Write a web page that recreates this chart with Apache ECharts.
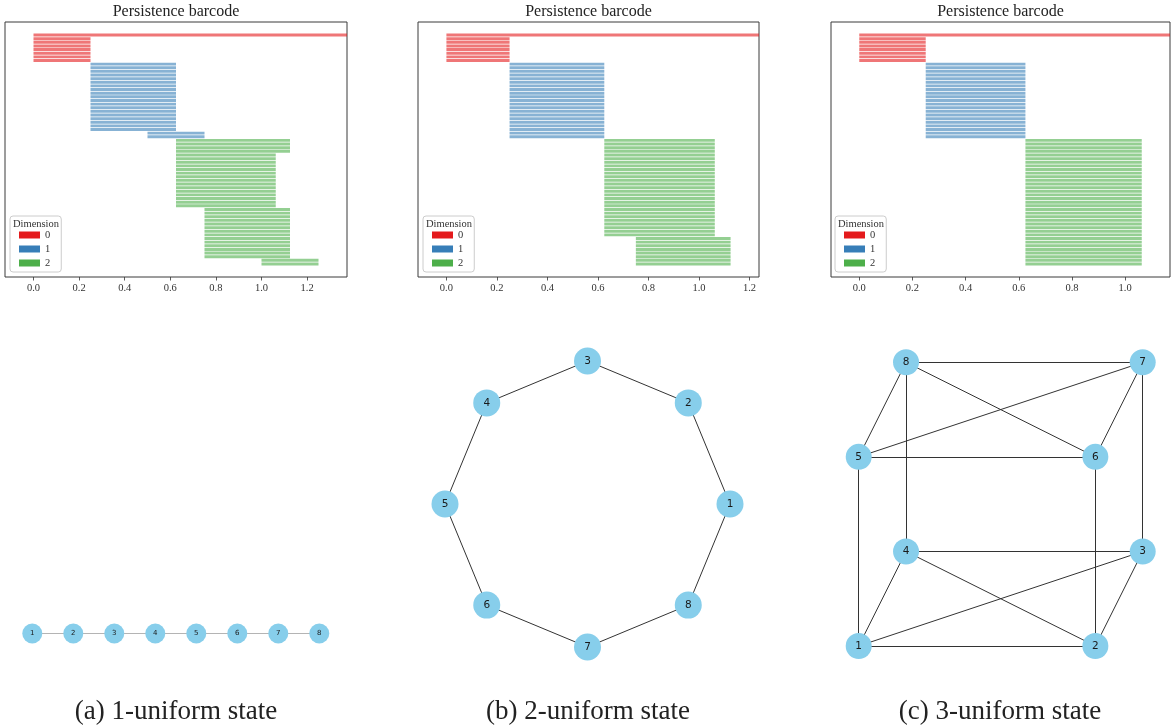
<!DOCTYPE html>
<html>
<head>
<meta charset="utf-8">
<script src="https://cdn.jsdelivr.net/npm/echarts@6/dist/echarts.min.js"></script>
<style>
  html, body { margin: 0; padding: 0; background: #ffffff; }
  #chart { width: 1172px; height: 726px; }
</style>
</head>
<body>
<div id="chart"></div>
<script>
// Persistence intervals, in drawing order: [dimension, birth, death, multiplicity].
// A death of null marks the essential class that never dies.
const barsUniform1 = [
  [0, 0.0, null, 1],
  [0, 0.0, 0.25, 7],
  [1, 0.25, 0.625, 19],
  [1, 0.5, 0.75, 2],
  [2, 0.625, 1.125, 4],
  [2, 0.625, 1.0625, 15],
  [2, 0.75, 1.125, 14],
  [2, 1.0, 1.25, 2]
];
const barsUniform2 = [
  [0, 0.0, null, 1],
  [0, 0.0, 0.25, 7],
  [1, 0.25, 0.625, 21],
  [2, 0.625, 1.0625, 27],
  [2, 0.75, 1.125, 8]
];
const barsUniform3 = [
  [0, 0.0, null, 1],
  [0, 0.0, 0.25, 7],
  [1, 0.25, 0.625, 21],
  [2, 0.625, 1.0625, 35]
];

const ticksUniform1 = [0.0, 0.2, 0.4, 0.6, 0.8, 1.0, 1.2];
const ticksUniform2 = [0.0, 0.2, 0.4, 0.6, 0.8, 1.0, 1.2];
const ticksUniform3 = [0.0, 0.2, 0.4, 0.6, 0.8, 1.0];

const dimensionNames = ['0', '1', '2'];
const dimensionColors = ['#e41a1c', '#377eb8', '#4daf4a'];

// Graph layouts (node positions) and edge lists
const pathNodes = [[0, 0], [1, 0], [2, 0], [3, 0], [4, 0], [5, 0], [6, 0], [7, 0]];
const pathEdges = [[1, 2], [2, 3], [3, 4], [4, 5], [5, 6], [6, 7], [7, 8]];

const ringNodes = [[1, 0], [0.7071, 0.7071], [0, 1], [-0.7071, 0.7071],
                   [-1, 0], [-0.7071, -0.7071], [0, -1], [0.7071, -0.7071]];
const ringEdges = [[1, 2], [2, 3], [3, 4], [4, 5], [5, 6], [6, 7], [7, 8], [8, 1]];

const cubeNodes = [[0, 0], [1, 0], [1.2, 0.4], [0.2, 0.4], [0, 0.8], [1, 0.8], [1.2, 1.2], [0.2, 1.2]];
const cubeEdges = [[8, 7], [8, 5], [8, 4], [8, 6], [7, 5], [7, 6], [7, 3], [5, 6],
                   [5, 1], [6, 2], [4, 3], [4, 1], [4, 2], [3, 1], [3, 2], [1, 2]];

const barcodeTitle = 'Persistence barcode';
const legendTitle = 'Dimension';
const captions = ['(a) 1-uniform state', '(b) 2-uniform state', '(c) 3-uniform state'];

// ---------------------------------------------------------------------------
const SERIF = '"Liberation Serif", "DejaVu Serif", serif';
const SANS = '"DejaVu Sans", sans-serif';

const barcodePanels = [
  { bars: barsUniform1, ticks: ticksUniform1, left: 5, width: 342, legendLeft: 10 },
  { bars: barsUniform2, ticks: ticksUniform2, left: 418, width: 341, legendLeft: 423 },
  { bars: barsUniform3, ticks: ticksUniform3, left: 831, width: 339, legendLeft: 835 }
];
const BAR_TOP = 22, BAR_HEIGHT = 255;

const graphPanels = [
  { nodes: pathNodes, edges: pathEdges, left: 32.3, width: 287, top: 623.5, height: 20,
    xr: [0, 7], yr: [-1, 1], size: 20, font: 7, edge: '#b4b4b4' },
  { nodes: ringNodes, edges: ringEdges, left: 445, width: 285, top: 361, height: 286,
    xr: [-1, 1], yr: [-1, 1], size: 27, font: 10.5, edge: '#333333' },
  { nodes: cubeNodes, edges: cubeEdges, left: 858.7, width: 284, top: 362.3, height: 283.7,
    xr: [0, 1.2], yr: [0, 1.2], size: 26, font: 10.5, edge: '#333333' }
];

const grids = [], xAxes = [], yAxes = [], series = [], legends = [], graphics = [];

function barRenderer(color) {
  return function (params, api) {
    const row = api.value(0);
    const start = api.coord([api.value(1), row]);
    const end = api.coord([api.value(2), row]);
    const h = Math.abs(api.size([0, 0.8])[1]);
    return {
      type: 'rect',
      shape: { x: start[0], y: start[1] - h / 2, width: end[0] - start[0], height: h },
      style: { fill: color, opacity: 0.6 }
    };
  };
}

barcodePanels.forEach(function (p, i) {
  let minBirth = Infinity, maxDeath = -Infinity, count = 0;
  p.bars.forEach(function (b) {
    minBirth = Math.min(minBirth, b[1]);
    if (b[2] !== null) maxDeath = Math.max(maxDeath, b[2]);
    count += b[3];
  });
  const delta = 0.1 * (maxDeath - minBirth);
  const xMin = minBirth - delta, xMax = maxDeath + delta;
  const yPad = 0.05 * (count - 0.2);

  const rowsByDim = [[], [], []];
  let row = 0;
  p.bars.forEach(function (b) {
    for (let k = 0; k < b[3]; k++) {
      rowsByDim[b[0]].push([row, b[1], b[2] === null ? xMax : b[2]]);
      row++;
    }
  });

  grids.push({ left: p.left, top: BAR_TOP, width: p.width, height: BAR_HEIGHT,
    show: true, borderColor: '#3a3a3a', borderWidth: 1, backgroundColor: 'transparent' });
  xAxes.push({
    type: 'value', gridIndex: i, position: 'bottom', min: xMin, max: xMax,
    splitLine: { show: false }, axisLine: { show: false, onZero: false },
    axisTick: { show: true, customValues: p.ticks, length: 3.5, inside: false,
      lineStyle: { color: '#333', width: 0.8 } },
    axisLabel: { show: true, customValues: p.ticks, margin: 6,
      formatter: function (v) { return v.toFixed(1); },
      fontFamily: SERIF, fontSize: 10.5, color: '#333' }
  });
  yAxes.push({
    type: 'value', gridIndex: i, inverse: true,
    min: -0.4 - yPad, max: count - 0.6 + yPad,
    show: false, splitLine: { show: false }
  });

  rowsByDim.forEach(function (rows, d) {
    series.push({
      type: 'custom', name: dimensionNames[d], xAxisIndex: i, yAxisIndex: i,
      renderItem: barRenderer(dimensionColors[d]),
      itemStyle: { color: dimensionColors[d] },
      encode: { x: [1, 2], y: 0 },
      data: rows, silent: true, animation: false
    });
  });

  legends.push({
    left: p.legendLeft, top: 216, orient: 'vertical',
    padding: [13, 11, 3, 9], itemWidth: 21, itemHeight: 7, itemGap: 2,
    backgroundColor: 'rgba(255,255,255,0.8)', borderColor: '#cccccc', borderWidth: 1, borderRadius: 3,
    selectedMode: false,
    textStyle: { fontFamily: SERIF, fontSize: 10.5, color: '#333', lineHeight: 12 },
    data: dimensionNames.map(function (n, d) {
      return { name: n, icon: 'rect', itemStyle: { color: dimensionColors[d], opacity: 1, borderWidth: 0 } };
    })
  });

  graphics.push({
    type: 'text', x: p.legendLeft + 26, y: 224, z: 100, zlevel: 1,
    style: { text: legendTitle, fontFamily: SERIF, fontSize: 10.5, fill: '#333',
      textAlign: 'center', textVerticalAlign: 'middle' }
  });
  graphics.push({
    type: 'text', x: p.left + p.width / 2, y: 12,
    style: { text: barcodeTitle, fontFamily: SERIF, fontSize: 16, fill: '#222',
      textAlign: 'center', textVerticalAlign: 'middle' }
  });
});

graphPanels.forEach(function (g, j) {
  const gi = barcodePanels.length + j;
  grids.push({ left: g.left, top: g.top, width: g.width, height: g.height, show: false });
  xAxes.push({ type: 'value', gridIndex: gi, min: g.xr[0], max: g.xr[1], show: false, splitLine: { show: false } });
  yAxes.push({ type: 'value', gridIndex: gi, min: g.yr[0], max: g.yr[1], show: false, splitLine: { show: false } });
  series.push({
    type: 'graph', coordinateSystem: 'cartesian2d', xAxisIndex: gi, yAxisIndex: gi,
    symbol: 'circle', symbolSize: g.size,
    data: g.nodes.map(function (pt, k) { return { name: String(k + 1), value: pt }; }),
    links: g.edges.map(function (e) { return { source: String(e[0]), target: String(e[1]) }; }),
    itemStyle: { color: '#87ceeb', opacity: 1 },
    lineStyle: { color: g.edge, width: 1, opacity: 1, curveness: 0 },
    label: { show: true, position: 'inside', formatter: '{b}', fontFamily: SANS,
      fontSize: g.font, color: '#1a1a1a' },
    emphasis: { disabled: true }, silent: true, animation: false
  });
  graphics.push({
    type: 'text', x: [176, 588, 1000][j], y: 712,
    style: { text: captions[j], fontFamily: SERIF, fontSize: 27, fill: '#222',
      textAlign: 'center', textVerticalAlign: 'middle' }
  });
});

const chart = echarts.init(document.getElementById('chart'), null, { renderer: 'canvas' });
chart.setOption({
  backgroundColor: '#ffffff',
  animation: false,
  grid: grids,
  xAxis: xAxes,
  yAxis: yAxes,
  legend: legends,
  series: series,
  graphic: graphics
});
</script>
</body>
</html>
